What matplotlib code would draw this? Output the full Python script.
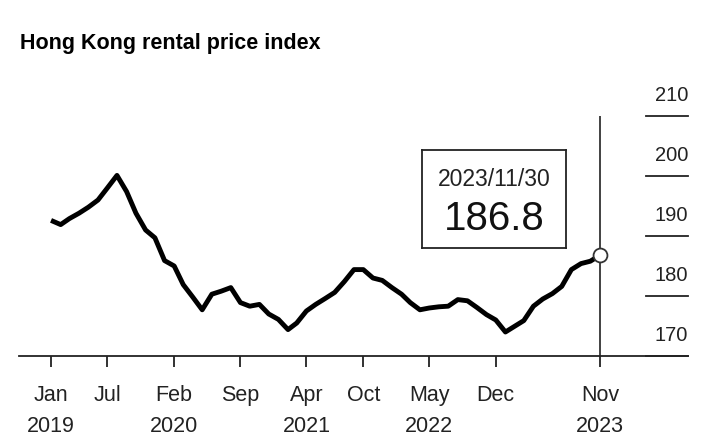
import pandas as pd
import matplotlib.pyplot as plt
import matplotlib.transforms as mtransforms

plt.rcParams['font.family'] = ['Liberation Sans', 'DejaVu Sans']

# monthly index, Jan 2019 .. Nov 2023
months = pd.date_range('2019-01-01', '2023-11-01', freq='MS')
index_values = [
    192.6, 191.9, 192.9, 193.8, 194.8, 196.0, 198.0, 200.1, 197.4, 193.8,
    191.0, 189.7, 185.9, 185.0, 181.9, 179.8, 177.7, 180.3, 180.8, 181.4,
    178.9, 178.3, 178.6, 177.0, 176.1, 174.4, 175.5, 177.5, 178.6, 179.6,
    180.6, 182.4, 184.4, 184.4, 183.0, 182.6, 181.4, 180.3, 178.9, 177.7,
    178.0, 178.2, 178.3, 179.4, 179.2, 178.1, 176.9, 176.0, 174.0, 175.0,
    175.9, 178.3, 179.5, 180.4, 181.6, 184.4, 185.4, 185.8, 186.8,
]

tick_dates = pd.to_datetime(['2019-01-01', '2019-07-01', '2020-02-01', '2020-09-01',
                             '2021-04-01', '2021-10-01', '2022-05-01', '2022-12-01',
                             '2023-11-01'])
tick_labels = ['Jan\n2019', 'Jul', 'Feb\n2020', 'Sep', 'Apr\n2021', 'Oct',
               'May\n2022', 'Dec', 'Nov\n2023']
y_levels = [170, 180, 190, 200, 210]

last_label = '2023/11/30'
last_value = index_values[-1]

fig = plt.figure(figsize=(7.17, 4.42), dpi=100)
ax = fig.add_axes([19/717, 1 - 356/442, 669/717, 240/442])

ax.plot(months, index_values, color='black', lw=3.5, solid_joinstyle='round',
        solid_capstyle='butt', zorder=3)

# marker on the last point + vertical guide
ax.axvline(months[-1], color='#333333', lw=1.3, zorder=2)
ax.plot(months[-1], last_value, 'o', ms=10, mfc='white', mec='#333333', mew=1.3, zorder=4)

ax.set_xlim(pd.Timestamp('2018-09-20'), pd.Timestamp('2024-08-10'))
ax.set_ylim(170, 210)

for s in ['top', 'right', 'left']:
    ax.spines[s].set_visible(False)
ax.spines['bottom'].set_linewidth(1.3)
ax.spines['bottom'].set_color('#222222')

ax.set_yticks([])
ax.set_xticks(tick_dates)
ax.set_xticklabels(tick_labels, fontsize=15.5, linespacing=1.62, color='#222222')
ax.tick_params(axis='x', length=8, width=1.3, color='#222222', pad=13)

# right side value scale: short line at each level, label above
trans = mtransforms.blended_transform_factory(ax.transAxes, ax.transData)
for v in y_levels:
    ax.plot([0.9372, 1.0], [v, v], color='#222222', lw=1.3, transform=trans,
            clip_on=False)
    ax.annotate(str(v), xy=(1.0, v), xycoords=trans, xytext=(0, 14.5),
                textcoords='offset points', ha='right', va='center',
                fontsize=14.5, color='#222222')

# last value box
box_ax = fig.add_axes([422/717, 1 - 248/442, 144/717, 98/442])
box_ax.set_xticks([])
box_ax.set_yticks([])
for s in box_ax.spines.values():
    s.set_linewidth(1.3)
    s.set_color('#222222')
box_ax.text(0.5, 0.70, last_label, ha='center', va='center', fontsize=16.5,
            color='#222222', transform=box_ax.transAxes)
box_ax.text(0.5, 0.30, f'{last_value:.1f}', ha='center', va='center', fontsize=29,
            color='#111111', transform=box_ax.transAxes)

fig.text(20/717, 1 - 44/442, 'Hong Kong rental price index', fontsize=15.5,
         fontweight='bold', va='center', ha='left')

fig.savefig('out.png', dpi=100)
